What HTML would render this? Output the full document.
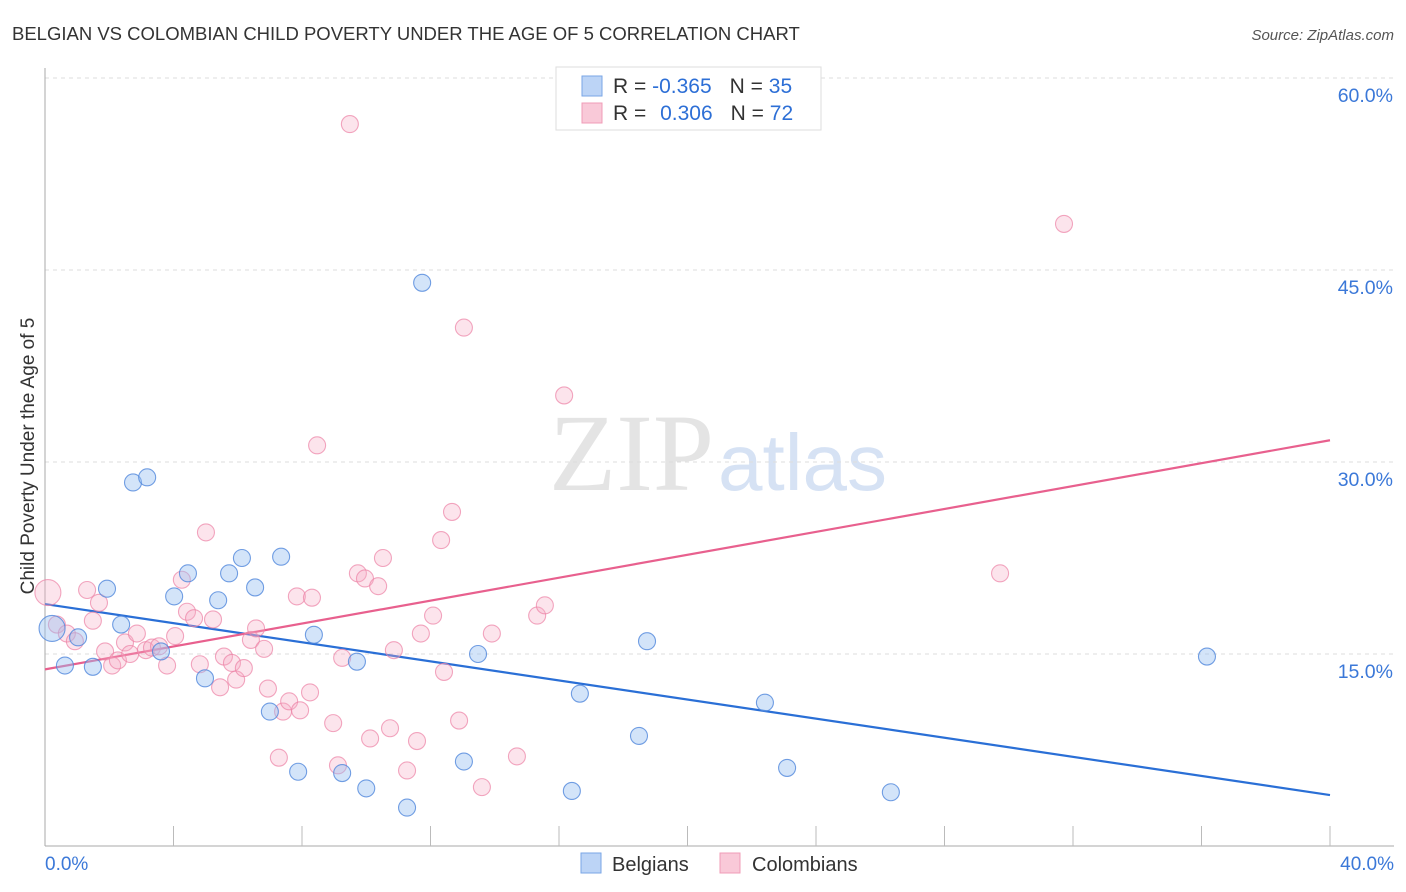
<!DOCTYPE html>
<html><head><meta charset="utf-8"><style>
body{margin:0;background:#fff;font-family:"Liberation Sans",sans-serif}
svg{display:block}
</style></head><body>
<svg id="c" width="1406" height="892">
<text x="12" y="40" font-size="18.5" fill="#333">BELGIAN VS COLOMBIAN CHILD POVERTY UNDER THE AGE OF 5 CORRELATION CHART</text>
<text x="1394" y="40" font-size="15" fill="#555" text-anchor="end" font-style="italic">Source: ZipAtlas.com</text>
<text x="714" y="490" font-size="110" fill="#e4e4e4" text-anchor="end" font-family="Liberation Serif">ZIP</text>
<text x="718" y="490" font-size="80" fill="#d6e2f4">atlas</text>
<g id="grid"></g><g id="axes"></g><g id="lines"></g><g id="pts"></g>
<text transform="translate(34,456) rotate(-90)" font-size="19" fill="#333" text-anchor="middle">Child Poverty Under the Age of 5</text>
<g>
<rect x="556" y="67" width="265" height="63" fill="#fff" stroke="#ddd"/>
<rect x="582" y="76" width="20" height="20" fill="#bcd4f6" stroke="#7aa6e6"/>
<rect x="582" y="103" width="20" height="20" fill="#f9c9d8" stroke="#f09cb7"/>
<text x="613" y="93" font-size="21" fill="#333">R = <tspan fill="#2d6fd6">-0.365</tspan><tspan dx="18">N = </tspan><tspan fill="#2d6fd6">35</tspan></text>
<text x="613" y="120" font-size="21" fill="#333">R = <tspan dx="8" fill="#2d6fd6">0.306</tspan><tspan dx="18">N = </tspan><tspan fill="#2d6fd6">72</tspan></text>
</g>
<g>
<rect x="581" y="853" width="20" height="20" fill="#bcd4f6" stroke="#7aa6e6"/>
<text x="612" y="871" font-size="20" fill="#333">Belgians</text>
<rect x="720" y="853" width="20" height="20" fill="#f9c9d8" stroke="#f09cb7"/>
<text x="752" y="871" font-size="20" fill="#333">Colombians</text>
</g>
</svg>
<script>
const xTicks=[0,40];
const yTicks=[15,30,45,60];
const belX=[0.22,0.62,1.03,1.49,1.93,2.37,2.74,3.18,3.61,4.02,4.45,4.98,5.39,5.73,6.13,6.54,7.0,7.35,7.88,8.37,9.25,9.71,10.0,11.27,11.74,13.04,13.48,16.4,16.65,18.49,18.74,22.41,23.1,26.33,36.17];
const belY=[17.0,14.1,16.3,14.0,20.1,17.3,28.4,28.8,15.2,19.5,21.3,13.1,19.2,21.3,22.5,20.2,10.5,22.6,5.8,16.5,5.7,14.4,4.5,3.0,44.0,6.6,15.0,4.3,11.9,8.6,16.0,11.2,6.1,4.2,14.8];
const colX=[0.09,0.37,0.68,0.93,1.31,1.49,1.68,1.87,2.09,2.27,2.49,2.65,2.86,3.14,3.33,3.55,3.8,4.05,4.26,4.42,4.64,4.82,5.01,5.23,5.45,5.57,5.82,5.95,6.19,6.41,6.57,6.82,6.94,7.28,7.41,7.6,7.84,7.94,8.25,8.31,8.47,8.97,9.12,9.25,9.49,9.74,9.96,10.12,10.37,10.52,10.74,10.86,11.27,11.58,11.7,12.08,12.33,12.42,12.67,12.89,13.04,13.6,13.91,14.69,15.32,15.56,16.16,29.73,31.72];
const colY=[19.8,17.3,16.6,16.0,20.0,17.6,19.0,15.2,14.1,14.5,15.9,15.0,16.6,15.3,15.5,15.6,14.1,16.4,20.8,18.3,17.8,14.2,24.5,17.7,12.4,14.8,14.3,13.0,13.9,16.1,17.0,15.4,12.3,6.9,10.5,11.3,19.5,10.6,12.0,19.4,31.3,9.6,6.3,14.7,56.4,21.3,20.9,8.4,20.3,22.5,9.2,15.3,5.9,8.2,16.6,18.0,23.9,13.6,26.1,9.8,40.5,4.6,16.6,7.0,18.0,18.8,35.2,21.3,48.6];
const belTrend=[18.9,3.98];
const colTrend=[13.8,31.7];
const NS='http://www.w3.org/2000/svg';
const X=v=>45+v/40*1285, Y=v=>846-v*12.8;
function mk(p,t,a){const e=document.createElementNS(NS,t);for(const k in a)e.setAttribute(k,a[k]);document.getElementById(p).appendChild(e);return e;}
yTicks.forEach(t=>{
 const g=mk('grid','line',{x1:45,x2:1394,y1:Y(t),y2:Y(t),stroke:'#ddd','stroke-dasharray':'4,4'});
 
 
 const l=mk('grid','text',{x:1393,y:Y(t)+24,'font-size':19.5,fill:'#3b78d8','text-anchor':'end'});
 l.textContent=t.toFixed(1)+'%';
 
 
});
const ax=mk('axes','line',{x1:45,x2:45,y1:68,y2:846,stroke:'#aaa'});


const bx=mk('axes','line',{x1:45,x2:1394,y1:846,y2:846,stroke:'#aaa'});


for(let i=1;i<=10;i++){const tk=mk('axes','line',{x1:X(i*4),x2:X(i*4),y1:826,y2:846,stroke:'#bbb'});
 
 }
xTicks.forEach((t,i)=>{const l=mk('axes','text',{x:i?1394:45,y:870,'font-size':19,fill:'#3b78d8','text-anchor':i?'end':'start'});
 l.textContent=t.toFixed(1)+'%';
 
 });
function pts(xs,ys,fill,stroke,name){xs.forEach((x,i)=>{
 const c=mk('pts','circle',{cx:X(x),cy:Y(ys[i]),r:i==0?13:8.5,fill:fill,stroke:stroke,'stroke-width':1.1});
 
 });}
pts(colX,colY,'rgba(245,170,195,0.32)','rgba(236,130,165,0.7)','colombian-point');
pts(belX,belY,'rgba(150,190,240,0.42)','rgba(80,135,220,0.8)','belgian-point');
const bl=mk('lines','line',{x1:X(0),y1:Y(belTrend[0]),x2:X(40),y2:Y(belTrend[1]),stroke:'#2a6fd6','stroke-width':2.2});


const cl=mk('lines','line',{x1:X(0),y1:Y(colTrend[0]),x2:X(40),y2:Y(colTrend[1]),stroke:'#e8608e','stroke-width':2.2});


</script>
</body></html>
